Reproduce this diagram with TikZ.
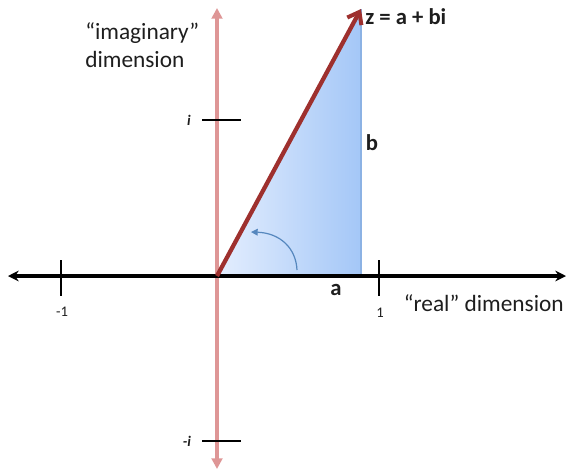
\documentclass[tikz,border=0pt]{standalone}
\usepackage{fontspec}
\setmainfont{Carlito}
\usetikzlibrary{arrows.meta}
\definecolor{axispink}{RGB}{222,150,150}
\definecolor{vecred}{RGB}{158,48,46}
\definecolor{filllight}{RGB}{228,238,254}
\definecolor{filldark}{RGB}{164,199,247}
\definecolor{edgeblue}{RGB}{140,178,228}
\definecolor{arcblue}{RGB}{85,135,190}
\definecolor{labelgray}{RGB}{30,30,30}
\tikzset{
  axisline/.style={line width=2.4pt, black, {Stealth[length=8pt,width=8pt]}-{Stealth[length=8pt,width=8pt]}},
  imagline/.style={line width=2.6pt, axispink, {Triangle[length=8pt,width=8pt]}-{Triangle[length=8pt,width=8pt]}},
  tickline/.style={line width=2.2pt, black},
  vecline/.style={line width=3.2pt, vecred, -{Straight Barb[length=8pt,width=12pt,line width=3pt]}},
  lbl/.style={inner sep=0pt, text=labelgray},
  biglbl/.style={lbl, font=\fontsize{17.5}{21}\selectfont},
  boldlbl/.style={lbl, font=\fontsize{17}{20}\selectfont\bfseries},
  smalllbl/.style={lbl, font=\fontsize{11}{13}\selectfont}
}
\begin{document}
\begin{tikzpicture}[x=0.75pt,y=-0.75pt]
\useasboundingbox (0,0) rectangle (568,472);
% named points
\coordinate (O) at (217,276);
\coordinate (A) at (361,276);
\coordinate (Z) at (361,9);
\coordinate (xl) at (8,276);
\coordinate (xr) at (566,276);
\coordinate (yt) at (217,8);
\coordinate (yb) at (217,469);
% triangle
\shade[left color=filllight, right color=filldark, shading angle=90] (O) -- (A) -- (Z) -- cycle;
\draw[edgeblue, line width=1.2pt] (A) -- (Z);
% axes
\draw[imagline] (yb) -- (yt);
\draw[axisline] (xl) -- (xr);
% ticks
\coordinate (t1a) at (61,260); \coordinate (t1b) at (61,296);
\coordinate (t2a) at (379,260); \coordinate (t2b) at (379,296);
\coordinate (t3a) at (202,120); \coordinate (t3b) at (241,120);
\coordinate (t4a) at (202,441); \coordinate (t4b) at (241,441);
\draw[tickline] (t1a) -- (t1b);
\draw[tickline] (t2a) -- (t2b);
\draw[tickline] (t3a) -- (t3b);
\draw[tickline] (t4a) -- (t4b);
% angle arc
\coordinate (arcS) at (297,270);
\coordinate (arcE) at (251,232);
\draw[arcblue, line width=0.9pt, -{Triangle[length=5pt,width=5pt]}] (arcS) .. controls (296,248) and (280,233) .. (arcE);
% vector
\draw[vecline] (O) -- (Z);
% labels
\node[boldlbl, anchor=west] (zl) at (365,17) {z = a + bi};
\node[boldlbl] (bl) at (372,143) {b};
\node[boldlbl] (al) at (336,290) {a};
\node[smalllbl] (m1) at (62,312) {-1};
\node[smalllbl] (p1) at (380,313) {1};
\node[lbl, font=\fontsize{11}{13}\selectfont\itshape\bfseries] (il) at (189,120) {i};
\node[lbl, font=\fontsize{11}{13}\selectfont\itshape\bfseries] (mil) at (187,441) {-i};
\node[biglbl, anchor=east] (re) at (564,303) {“real” dimension};
\node[biglbl, align=left, anchor=west] (im) at (85,45) {“imaginary”\\dimension};
\end{tikzpicture}
\end{document}
